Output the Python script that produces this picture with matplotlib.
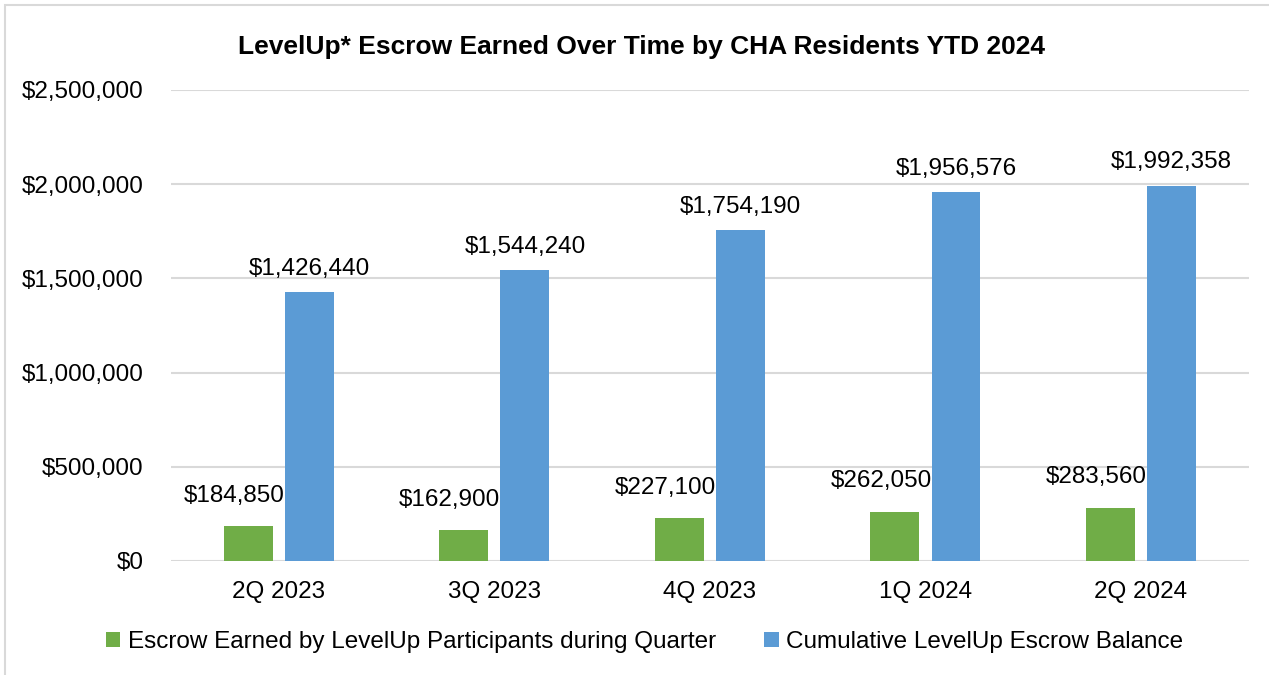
import numpy as np
import matplotlib.pyplot as plt
from matplotlib.patches import Rectangle
from matplotlib.ticker import FuncFormatter

plt.rcParams['font.family'] = ['Liberation Sans', 'DejaVu Sans']

quarters = ['2Q 2023', '3Q 2023', '4Q 2023', '1Q 2024', '2Q 2024']
earned = [184850, 162900, 227100, 262050, 283560]
cumulative = [1426440, 1544240, 1754190, 1956576, 1992358]

green = '#70AD47'
blue = '#5B9BD5'

fig = plt.figure(figsize=(12.69, 6.75), dpi=100)
ax = fig.add_axes([0.1348, 0.169, 0.8492, 0.6977])

x = np.arange(len(quarters))
w = 0.227
off = 0.142
b1 = ax.bar(x - off, earned, w, color=green, label='Escrow Earned by LevelUp Participants during Quarter', zorder=3)
b2 = ax.bar(x + off, cumulative, w, color=blue, label='Cumulative LevelUp Escrow Balance', zorder=3)

for rect, v in zip(b1, earned):
    ax.annotate(f'${v:,.0f}', (rect.get_x() + rect.get_width() / 2, v),
                xytext=(-10, 14), textcoords='offset points', ha='center', va='bottom', fontsize=17.5)
for rect, v in zip(b2, cumulative):
    ax.annotate(f'${v:,.0f}', (rect.get_x() + rect.get_width() / 2, v),
                xytext=(0, 9), textcoords='offset points', ha='center', va='bottom', fontsize=17.5)

ax.set_xlim(-0.5, len(quarters) - 0.5)
ax.set_ylim(0, 2500000)
ax.set_yticks(np.arange(0, 2500001, 500000))
ax.yaxis.set_major_formatter(FuncFormatter(lambda v, p: f'${v:,.0f}'))
ax.set_xticks(x)
ax.set_xticklabels(quarters)
ax.tick_params(axis='both', length=0, labelsize=17.5)
ax.tick_params(axis='y', pad=20)
ax.tick_params(axis='x', pad=14.5)
ax.grid(axis='y', color='#d9d9d9', linewidth=1.5, zorder=0)
for s in ax.spines.values():
    s.set_visible(False)

ax.set_title('LevelUp* Escrow Earned Over Time by CHA Residents YTD 2024',
             fontsize=19, fontweight='bold', x=0.437, y=1.0, pad=26)

fig.legend(loc='center', bbox_to_anchor=(0.508, 0.049), ncol=2, frameon=False,
           fontsize=17.5, handlelength=0.6, handleheight=0.6, handletextpad=0.3,
           columnspacing=2.0)

fig.patches.append(Rectangle((5 / 1269, -0.1), 1.2, 1.1 - 5 / 675, transform=fig.transFigure,
                             fill=False, edgecolor='#d9d9d9', linewidth=1.5))

fig.savefig('out.png', dpi=100)
